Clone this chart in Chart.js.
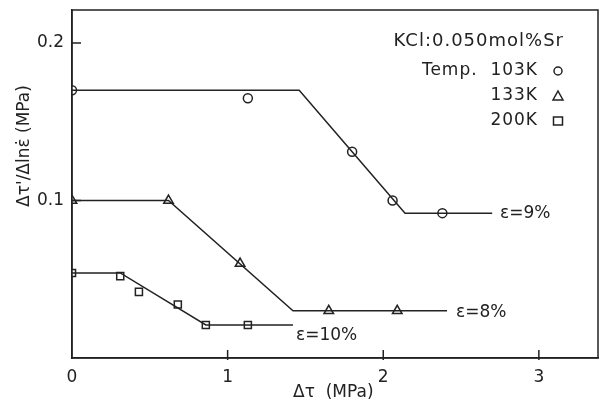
<!DOCTYPE html>
<html>
<head>
<meta charset="utf-8">
<script src="https://cdn.jsdelivr.net/npm/chart.js@4"></script>
<style>
  html, body { margin: 0; padding: 0; background: #fff; }
  #wrap { width: 599px; height: 407px; }
</style>
</head>
<body>
<div id="wrap"><canvas id="chart"></canvas></div>
<script>
// measured points (x = Δτ MPa, y = Δτ'/Δlnε̇ MPa)
const pts103 = [[0, 0.170], [1.13, 0.165], [1.80, 0.131], [2.06, 0.100], [2.38, 0.092]];
const pts133 = [[0, 0.100], [0.62, 0.100], [1.08, 0.060], [1.65, 0.030], [2.09, 0.030]];
const pts200 = [[0, 0.054], [0.31, 0.052], [0.43, 0.042], [0.68, 0.034], [0.86, 0.021], [1.13, 0.021]];

// hand-drawn fit lines
const line103 = [[0, 0.170], [1.46, 0.170], [2.14, 0.092], [2.70, 0.092]];
const line133 = [[0, 0.100], [0.62, 0.100], [1.42, 0.030], [2.41, 0.030]];
const line200 = [[0, 0.054], [0.31, 0.054], [0.86, 0.021], [1.42, 0.021]];

const xTicks = [0, 1, 2, 3];
const yTicks = [0.1, 0.2];

const INK = "#222";
const FONT = "DejaVu Sans";

const xy = (arr) => arr.map((p) => ({ x: p[0], y: p[1] }));

function lineSet(arr) {
  return {
    data: xy(arr),
    showLine: true,
    borderColor: INK,
    borderWidth: 1.5,
    pointRadius: 0,
    fill: false,
    tension: 0,
  };
}

function pointSet(arr, style, r) {
  return {
    data: xy(arr),
    showLine: false,
    pointStyle: style,
    pointRadius: r,
    pointBorderColor: INK,
    pointBackgroundColor: "#fff",
    pointBorderWidth: 1.5,
  };
}

function marker(ctx, style, x, y) {
  ctx.save();
  ctx.strokeStyle = INK;
  ctx.fillStyle = "#fff";
  ctx.lineWidth = 1.5;
  ctx.beginPath();
  if (style === "circle") ctx.arc(x, y, 4, 0, Math.PI * 2);
  else if (style === "triangle") {
    ctx.moveTo(x, y - 5);
    ctx.lineTo(x + 5, y + 4);
    ctx.lineTo(x - 5, y + 4);
    ctx.closePath();
  } else ctx.rect(x - 4.5, y - 4, 9, 8);
  ctx.fill();
  ctx.stroke();
  ctx.restore();
}

const decor = {
  id: "decor",
  afterDraw(chart) {
    const { ctx, chartArea: a, scales } = chart;
    ctx.save();
    // frame
    ctx.strokeStyle = INK;
    ctx.lineWidth = 1.5;
    ctx.strokeRect(a.left, a.top, a.right - a.left, a.bottom - a.top);

    // inward ticks
    ctx.beginPath();
    xTicks.slice(1).forEach((v) => {
      const px = scales.x.getPixelForValue(v);
      ctx.moveTo(px, a.bottom + 2);
      ctx.lineTo(px, a.bottom - 8);
    });
    yTicks.forEach((v) => {
      const py = scales.y.getPixelForValue(v);
      ctx.moveTo(a.left, py);
      ctx.lineTo(a.left + 9, py);
    });
    ctx.stroke();

    ctx.fillStyle = INK;
    ctx.textBaseline = "middle";

    // legend block
    ctx.textAlign = "right";
    ctx.font = "18px '" + FONT + "'";
    ctx.letterSpacing = "1px";
    ctx.fillText("KCl:0.050mol%Sr", 564, 41);
    ctx.font = "17px '" + FONT + "'";
    ctx.fillText("Temp.  103K", 538, 71);
    ctx.fillText("133K", 538, 96);
    ctx.fillText("200K", 538, 121);
    ctx.letterSpacing = "0px";
    marker(ctx, "circle", 558, 71);
    marker(ctx, "triangle", 558, 96);
    marker(ctx, "square", 558, 121);

    // curve labels
    ctx.textAlign = "left";
    ctx.font = "17px '" + FONT + "'";
    ctx.fillText("ε=9%", 500, 214);
    ctx.fillText("ε=8%", 456, 313);
    ctx.fillText("ε=10%", 296, 336);

    // axis titles
    ctx.fillText("Δτ  (MPa)", 293, 393);
    ctx.save();
    ctx.translate(25, 146);
    ctx.rotate(-Math.PI / 2);
    ctx.textAlign = "center";
    ctx.fillText("Δτ'/Δlnε̇ (MPa)", 0, 0);
    ctx.restore();

    ctx.restore();
  },
};

new Chart(document.getElementById("chart"), {
  type: "scatter",
  data: {
    datasets: [
      lineSet(line103),
      lineSet(line133),
      lineSet(line200),
      pointSet(pts103, "circle", 4.5),
      pointSet(pts133, "triangle", 5.5),
      pointSet(pts200, "rect", 5),
    ],
  },
  options: {
    responsive: true,
    maintainAspectRatio: false,
    animation: false,
    layout: { autoPadding: false, padding: { top: 10, right: 1, left: 0, bottom: 0 } },
    plugins: { legend: { display: false }, tooltip: { enabled: false } },
    scales: {
      x: {
        type: "linear",
        min: 0,
        max: 3.38,
        afterBuildTicks: (s) => { s.ticks = xTicks.map((v) => ({ value: v })); },
        afterFit: (s) => {
          s.height = 49;
          s.paddingLeft = 0;
          s.paddingRight = 0;
        },
        grid: { display: false, drawTicks: false },
        border: { display: true, color: INK, width: 1.5 },
        ticks: {
          color: INK,
          padding: 9,
          font: { family: FONT, size: 17 },
          callback: (v) => String(v),
        },
      },
      y: {
        type: "linear",
        min: 0,
        max: 0.221,
        afterBuildTicks: (s) => { s.ticks = yTicks.map((v) => ({ value: v })); },
        afterFit: (s) => {
          s.width = 72;
          s.paddingTop = 0;
          s.paddingBottom = 0;
        },
        grid: { display: false, drawTicks: false },
        border: { display: true, color: INK, width: 1.5 },
        ticks: {
          color: INK,
          padding: 8,
          font: { family: FONT, size: 17 },
          callback: (v) => v.toFixed(1),
        },
      },
    },
  },
  plugins: [decor],
});
</script>
</body>
</html>
